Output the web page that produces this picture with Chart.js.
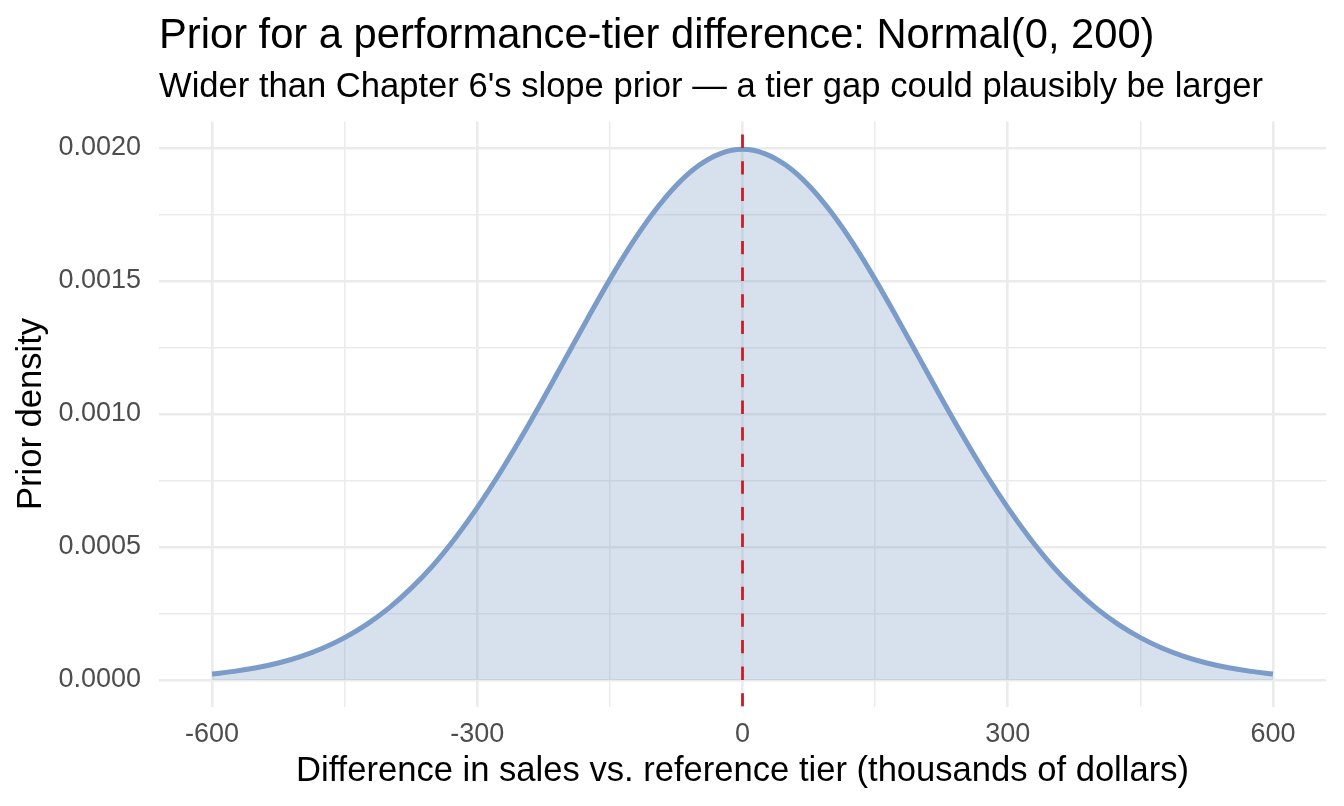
<!DOCTYPE html>
<html>
<head>
<meta charset="utf-8">
<script src="https://cdn.jsdelivr.net/npm/chart.js@4.4.1/dist/chart.umd.min.js"></script>
<style>
  html, body { margin: 0; padding: 0; background: #ffffff; }
  #wrap { width: 1344px; height: 806px; }
</style>
</head>
<body>
<div id="wrap"><canvas id="c" width="1344" height="806"></canvas></div>
<script>
// ---- data ----
const xValues = [-600,-575,-550,-525,-500,-475,-450,-425,-400,-375,-350,-325,-300,-275,-250,-225,-200,-175,-150,-125,-100,-75,-50,-25,0,
                 25,50,75,100,125,150,175,200,225,250,275,300,325,350,375,400,425,450,475,500,525,550,575,600];
const densityValues = [0.0000222,0.0000320,0.0000455,0.0000636,0.0000876,0.000119,0.000159,0.000209,0.000270,0.000344,0.000431,0.000533,0.000648,0.000775,0.000913,0.001059,0.001210,0.001360,0.001506,0.001641,0.001760,0.001859,0.001933,0.001979,0.001995,
                       0.001979,0.001933,0.001859,0.001760,0.001641,0.001506,0.001360,0.001210,0.001059,0.000913,0.000775,0.000648,0.000533,0.000431,0.000344,0.000270,0.000209,0.000159,0.000119,0.0000876,0.0000636,0.0000455,0.0000320,0.0000222];
const referenceX = [0];
const xTicks = [-600,-450,-300,-150,0,150,300,450,600];
const xTickLabels = ["-600","","-300","","0","","300","","600"];
const yTicks = [0,0.00025,0.0005,0.00075,0.001,0.00125,0.0015,0.00175,0.002];
const yTickLabels = ["0.0000","","0.0005","","0.0010","","0.0015","","0.0020"];
const xRange = [-660, 660];
const yRange = [-0.0001, 0.0021];

const titleText = "Prior for a performance-tier difference: Normal(0, 200)";
const subtitleText = "Wider than Chapter 6's slope prior \u2014 a tier gap could plausibly be larger";
const xTitle = "Difference in sales vs. reference tier (thousands of dollars)";
const yTitle = "Prior density";

const FONT = "'Liberation Sans', Arial, Helvetica, sans-serif";

const curve = xValues.map((x, i) => ({ x: x, y: densityValues[i] }));
const refLine = [{ x: referenceX[0], y: yRange[0] }, { x: referenceX[0], y: yRange[1] }];

function gridWidth(ctx, labels) {
  const i = ctx.index;
  return labels[i] === "" ? 1.5 : 2.6;
}

new Chart(document.getElementById('c'), {
  type: 'line',
  data: {
    datasets: [
      {
        data: refLine,
        borderColor: '#C81E28',
        borderWidth: 2.8,
        borderDash: [13.3, 13.3],
        pointRadius: 0,
        fill: false,
        tension: 0,
        order: 0
      },
      {
        data: curve,
        borderColor: '#7B9BC8',
        backgroundColor: 'rgba(123,155,200,0.30)',
        borderWidth: 5,
        pointRadius: 0,
        fill: { value: 0 },
        cubicInterpolationMode: 'monotone',
        order: 1
      }
    ]
  },
  options: {
    responsive: false,
    animation: false,
    devicePixelRatio: 1,
    layout: { padding: { left: 0, right: 18, top: 0, bottom: 0 } },
    plugins: {
      legend: { display: false },
      tooltip: { enabled: false },
      title: {
        display: true,
        text: titleText,
        align: 'start',
        fullSize: false,
        color: '#000000',
        font: { family: FONT, size: 41.7, weight: 'normal', lineHeight: 1 },
        padding: { top: 15.5, bottom: 0 }
      },
      subtitle: {
        display: true,
        text: subtitleText,
        align: 'start',
        fullSize: false,
        color: '#000000',
        font: { family: FONT, size: 34.6, weight: 'normal', lineHeight: 1 },
        padding: { top: 12.5, bottom: 17.1 }
      }
    },
    scales: {
      x: {
        type: 'linear',
        min: xRange[0],
        max: xRange[1],
        afterBuildTicks: (s) => { s.ticks = xTicks.map(v => ({ value: v })); },
        afterFit: (s) => { s.height = 99.5; },
        ticks: {
          autoSkip: false,
          maxRotation: 0,
          padding: 15,
          color: '#4D4D4D',
          font: { family: FONT, size: 27, lineHeight: 1 },
          callback: (v, i) => xTickLabels[i]
        },
        grid: {
          drawTicks: false,
          color: '#EBEBEB',
          lineWidth: (ctx) => gridWidth(ctx, xTickLabels)
        },
        border: { display: false },
        title: {
          display: true,
          text: xTitle,
          color: '#000000',
          font: { family: FONT, size: 34.6, lineHeight: 1 },
          padding: { top: 0, bottom: 16.8 }
        }
      },
      y: {
        type: 'linear',
        min: yRange[0],
        max: yRange[1],
        afterBuildTicks: (s) => { s.ticks = yTicks.map(v => ({ value: v })); },
        afterFit: (s) => { s.width = 159; },
        ticks: {
          autoSkip: false,
          padding: 18,
          color: '#4D4D4D',
          font: { family: FONT, size: 27, lineHeight: 1 },
          callback: (v, i) => yTickLabels[i]
        },
        grid: {
          drawTicks: false,
          color: '#EBEBEB',
          lineWidth: (ctx) => gridWidth(ctx, yTickLabels)
        },
        border: { display: false },
        title: {
          display: true,
          text: yTitle,
          color: '#000000',
          font: { family: FONT, size: 34.6, lineHeight: 1 },
          padding: { top: 14, bottom: 0 }
        }
      }
    }
  }
});
</script>
</body>
</html>
